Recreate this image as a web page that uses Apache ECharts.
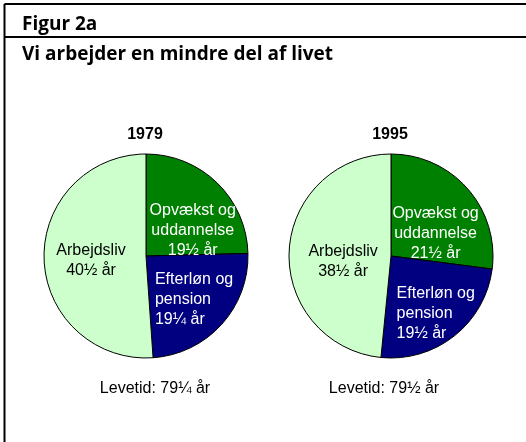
<!DOCTYPE html>
<html>
<head>
<meta charset="utf-8">
<script src="https://cdn.jsdelivr.net/npm/echarts@6/dist/echarts.min.js"></script>
<style>
    html, body { margin: 0; padding: 0; background: #fff; }
    #ecLife { width: 526px; height: 442px; }
</style>
</head>
<body>
<div id="ecLife"></div>
<script>
var years = ['1979', '1995'];
var phases = ['Opvækst og\nuddannelse', 'Efterløn og\npension', 'Arbejdsliv'];
var yearLabels = [['19½ år', '19¼ år', '40½ år'], ['21½ år', '19½ år', '38½ år']];
var values1979 = [19.5, 19.25, 40.5];
var values1995 = [21.5, 19.5, 38.5];
var lifeLabels = ['Levetid: 79¼ år', 'Levetid: 79½ år'];
var phaseColors = ['#008000', '#000080', '#ccffcc'];
var labelColors = ['#ffffff', '#ffffff', '#000000'];

// label nudges from the default inside anchor
var nudge = [
    [{dx: 9, dy: 13}, {dx: -31, dy: 7, align: 'left'}, {dx: -1, dy: 3}],
    [{dx: 4, dy: 13}, {dx: -28, dy: 15, align: 'left'}, {dx: 6, dy: 8}]
];

function buildData(values, labels) {
    return values.map(function (v, i) {
        return {
            name: phases[i],
            value: v,
            itemStyle: {color: phaseColors[i]},
            label: {
                formatter: phases[i] + '\n' + labels[i],
                color: labelColors[i]
            }
        };
    });
}

function pieSeries(idx, values, cx) {
    return {
        type: 'pie',
        center: [cx, 256],
        radius: 102,
        startAngle: 90,
        clockwise: true,
        silent: true,
        itemStyle: {borderColor: '#000', borderWidth: 1},
        label: {
            position: 'inside',
            fontFamily: 'Liberation Sans',
            fontSize: 16,
            lineHeight: 20
        },
        labelLine: {show: false},
        labelLayout: function (params) {
            return nudge[idx][params.dataIndex];
        },
        data: buildData(values, yearLabels[idx])
    };
}

getechart('ecLife', {
    animation: false,
    title: [
        {text: years[0], left: 145, top: 127, textAlign: 'center', padding: 0,
            textStyle: {fontFamily: 'Liberation Sans', fontSize: 16, fontWeight: 'bold', color: '#000'}},
        {text: years[1], left: 390, top: 127, textAlign: 'center', padding: 0,
            textStyle: {fontFamily: 'Liberation Sans', fontSize: 16, fontWeight: 'bold', color: '#000'}},
        {text: lifeLabels[0], left: 155, top: 381, textAlign: 'center', padding: 0,
            textStyle: {fontFamily: 'Liberation Sans', fontSize: 16, fontWeight: 'normal', color: '#000'}},
        {text: lifeLabels[1], left: 384, top: 381, textAlign: 'center', padding: 0,
            textStyle: {fontFamily: 'Liberation Sans', fontSize: 16, fontWeight: 'normal', color: '#000'}}
    ],
    graphic: [
        {type: 'line', shape: {x1: 4.5, y1: 4, x2: 526, y2: 4}, style: {stroke: '#000', lineWidth: 2}},
        {type: 'line', shape: {x1: 4.5, y1: 4, x2: 4.5, y2: 442}, style: {stroke: '#000', lineWidth: 2}},
        {type: 'line', shape: {x1: 4.5, y1: 37, x2: 526, y2: 37}, style: {stroke: '#000', lineWidth: 2}},
        {type: 'text', x: 22, y: 25, style: {text: 'Figur 2a', font: 'bold 19px "Open Sans"', fill: '#000', textVerticalAlign: 'middle'}},
        {type: 'text', x: 22, y: 55, style: {text: 'Vi arbejder en mindre del af livet', font: 'bold 19px "Open Sans"', fill: '#000', textVerticalAlign: 'middle'}}
    ],
    series: [
        pieSeries(0, values1979, 146),
        pieSeries(1, values1995, 391)
    ]
});

function getechart(idName, idOption) {
    var id = echarts.init(document.getElementById(idName));
    id.setOption(idOption);
    window.addEventListener('resize', function () {
        id.resize();
    });
}
</script>
</body>
</html>
